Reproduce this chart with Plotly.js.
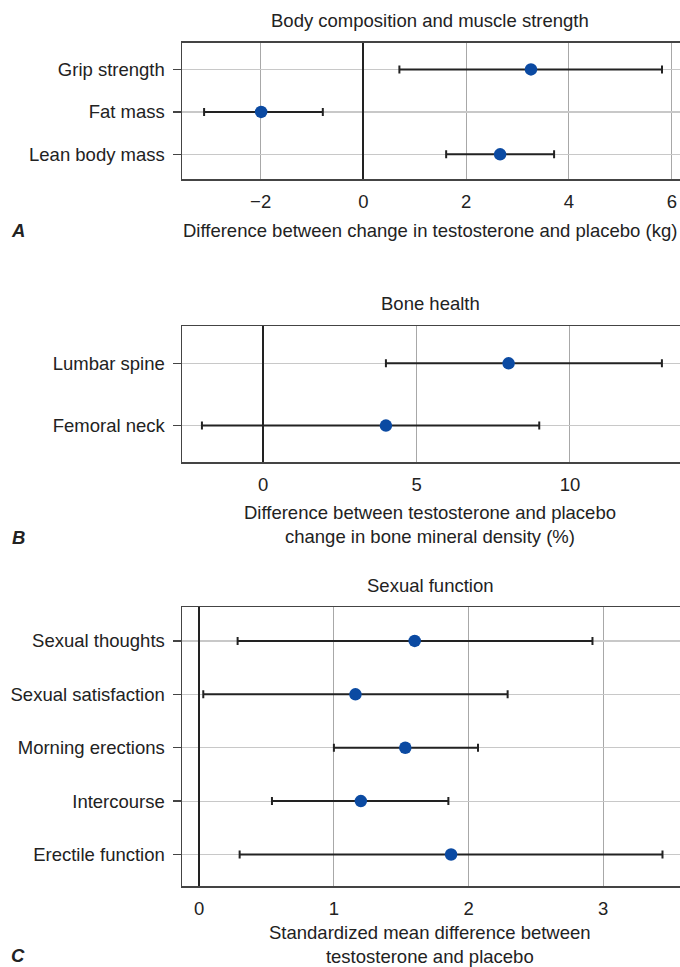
<!DOCTYPE html>
<html><head><meta charset="utf-8">
<script src="https://cdn.plot.ly/plotly-3.0.1.min.js"></script>
<style>html,body{margin:0;padding:0;background:#fff}#chart{width:680px;height:967px}</style>
</head><body><div id="chart"></div>
<script>
// Panel A: Body composition and muscle strength
const catsA = ["Lean body mass", "Fat mass", "Grip strength"];
const estA = [2.66, -1.99, 3.26];
const loA = [1.61, -3.10, 0.70];
const hiA = [3.71, -0.79, 5.81];
const ticksA = [-2, 0, 2, 4, 6];
const tickTextA = ["\u22122", "0", "2", "4", "6"];

// Panel B: Bone health
const catsB = ["Femoral neck", "Lumbar spine"];
const estB = [4.0, 8.0];
const loB = [-2.0, 4.0];
const hiB = [9.0, 13.0];
const ticksB = [0, 5, 10];

// Panel C: Sexual function
const catsC = ["Erectile function", "Intercourse", "Morning erections", "Sexual satisfaction", "Sexual thoughts"];
const estC = [1.87, 1.20, 1.53, 1.16, 1.60];
const loC = [0.30, 0.54, 1.00, 0.03, 0.285];
const hiC = [3.44, 1.85, 2.07, 2.29, 2.92];
const ticksC = [0, 1, 2, 3];

const FONT = "Liberation Sans, Arial, Helvetica, sans-serif";
const FS = 18.5;
const TXT = "#222";
const BLUE = "#0b4aa2";

function trace(cats, est, lo, hi, xa, ya) {
  return {
    type: "scatter", mode: "markers",
    x: est, y: cats.map((c, i) => i),
    xaxis: xa, yaxis: ya,
    marker: {color: BLUE, size: 12.5},
    error_x: {type: "data", symmetric: false,
      array: hi.map((h, i) => h - est[i]),
      arrayminus: lo.map((l, i) => est[i] - l),
      color: "#222", thickness: 2, width: 4},
    showlegend: false, hoverinfo: "x+y"
  };
}

const data = [
  trace(catsA, estA, loA, hiA, "x", "y"),
  trace(catsB, estB, loB, hiB, "x2", "y2"),
  trace(catsC, estC, loC, hiC, "x3", "y3")
];

function xax(range, ticks, text, anchor) {
  const a = {
    range: range, anchor: anchor, domain: [0, 1],
    tickvals: ticks, ticks: "", showline: true, mirror: true,
    linecolor: "#444", linewidth: 1.5,
    showgrid: true, gridcolor: "#a8a8a8", gridwidth: 1,
    zeroline: true, zerolinecolor: "#222", zerolinewidth: 2,
    tickfont: {family: FONT, size: FS, color: TXT}, ticklen: 0,
    ticklabelstandoff: 5
  };
  if (text) a.ticktext = text;
  return a;
}
function yax(cats, range, domain, anchor) {
  return {
    range: range, anchor: anchor, domain: domain,
    tickvals: cats.map((c, i) => i), ticktext: cats,
    ticks: "outside", ticklen: 8, tickcolor: "#444", tickwidth: 1.5,
    showline: true, mirror: false, linecolor: "#444", linewidth: 1.5,
    showgrid: true, gridcolor: "#c8c8c8", gridwidth: 1.2,
    zeroline: false, ticklabelstandoff: 4,
    tickfont: {family: FONT, size: FS, color: TXT}
  };
}

const H = 967;
const dom = (top, bot) => [1 - bot / H, 1 - top / H];

const ann = (text, x, y, opts) => Object.assign({
  text: text, x: x, y: 1 - y / H, xref: "paper", yref: "paper",
  showarrow: false, xanchor: "center", yanchor: "middle",
  font: {family: FONT, size: FS, color: TXT}
}, opts || {});

// paper x: 0 -> 182px, 1 -> 680px
const px = v => (v - 182) / 498;

const layout = {
  width: 680, height: 967,
  margin: {l: 182, r: 0, t: 0, b: 0},
  paper_bgcolor: "#fff", plot_bgcolor: "#fff",
  xaxis: xax([-3.53, 6.16], ticksA, tickTextA, "y"),
  yaxis: yax(catsA, [-0.58, 2.63], dom(42.7, 179), "x"),
  xaxis2: xax([-2.65, 13.59], ticksB, null, "y2"),
  yaxis2: yax(catsB, [-0.59, 1.6], dom(326, 462.3), "x2"),
  xaxis3: xax([-0.128, 3.57], ticksC, null, "y3"),
  yaxis3: yax(catsC, [-0.59, 4.63], dom(607.3, 886), "x3"),
  annotations: [
    ann("Body composition and muscle strength", px(430), 20),
    ann("Difference between change in testosterone and placebo (kg)", px(430), 231),
    ann("<b><i>A</i></b>", px(18), 231),
    ann("Bone health", px(430), 303),
    ann("Difference between testosterone and placebo<br>change in bone mineral density (%)", px(430), 524),
    ann("<b><i>B</i></b>", px(18), 537),
    ann("Sexual function", px(430), 585),
    ann("Standardized mean difference between<br>testosterone and placebo", px(430), 944),
    ann("<b><i>C</i></b>", px(18), 955)
  ]
};

Plotly.newPlot("chart", data, layout, {displayModeBar: false, staticPlot: true});
</script>
</body></html>
